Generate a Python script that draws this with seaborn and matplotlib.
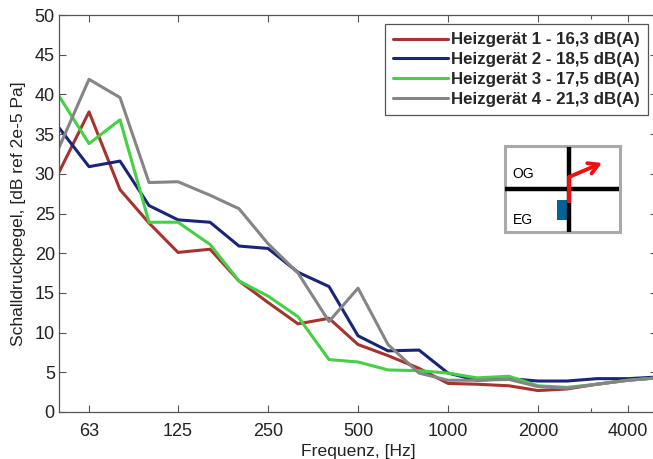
import matplotlib
matplotlib.use("Agg")
import matplotlib.pyplot as plt
import matplotlib.patches as mpatches
from matplotlib.ticker import FixedLocator, FixedFormatter, NullFormatter
import pandas as pd
import seaborn as sns

freqs = [50, 63, 80, 100, 125, 160, 200, 250, 315, 400, 500, 630, 800, 1000, 1250, 1600, 2000, 2500, 3150, 4000, 5000]
heater_1 = [30.2, 37.8, 28.0, 23.8, 20.1, 20.5, 16.5, 13.8, 11.1, 11.8, 8.5, 7.1, 5.5, 3.6, 3.5, 3.3, 2.7, 2.9, 3.5, 4.0, 4.3]
heater_2 = [35.8, 30.9, 31.6, 26.0, 24.2, 23.9, 20.9, 20.6, 17.6, 15.8, 9.6, 7.7, 7.8, 4.9, 4.0, 4.2, 3.9, 3.9, 4.2, 4.2, 4.4]
heater_3 = [39.8, 33.8, 36.8, 23.9, 23.9, 21.1, 16.5, 14.6, 12.0, 6.6, 6.3, 5.3, 5.2, 4.9, 4.3, 4.5, 3.3, 3.1, 3.5, 4.0, 4.3]
heater_4 = [33.3, 41.9, 39.6, 28.9, 29.0, 27.3, 25.6, 21.2, 17.5, 11.4, 15.6, 8.5, 4.9, 4.0, 4.0, 4.1, 3.2, 3.0, 3.5, 4.0, 4.3]
labels = ["Heizgerät 1 - 16,3 dB(A)", "Heizgerät 2 - 18,5 dB(A)", "Heizgerät 3 - 17,5 dB(A)", "Heizgerät 4 - 21,3 dB(A)"]
colors = ["#a5332e", "#1a2478", "#45d045", "#858585"]
x_ticks = [63, 125, 250, 500, 1000, 2000, 4000]
x_ticklabels = ["63", "125", "250", "500", "1000", "2000", "4000"]
y_ticks = [0, 5, 10, 15, 20, 25, 30, 35, 40, 45, 50]

W, H = 653, 459

sns.set_style("white")
plt.rcParams['font.family'] = ['Liberation Sans', 'DejaVu Sans']
plt.rcParams['font.size'] = 11

frames = []
for name, values in zip(labels, [heater_1, heater_2, heater_3, heater_4]):
    frames.append(pd.DataFrame({'freq': freqs, 'level': values, 'heater': name}))
data = pd.concat(frames)

fig = plt.figure(figsize=(W / 100, H / 100), dpi=100)
# the right edge of the original axes is cut off by the picture
ax = fig.add_axes([59 / W, (H - 412) / H, (657 - 59) / W, 397 / H])

sns.lineplot(data=data, x='freq', y='level', hue='heater', palette=colors, linewidth=2.2, ax=ax)

ax.set_xscale('log')
ax.set_xlim(50, 5000)
ax.set_ylim(0, 50)
ax.xaxis.set_major_locator(FixedLocator(x_ticks))
ax.xaxis.set_major_formatter(FixedFormatter(x_ticklabels))
ax.xaxis.set_minor_locator(FixedLocator([3000]))
ax.xaxis.set_minor_formatter(NullFormatter())
ax.set_yticks(y_ticks)
ax.tick_params(axis='both', which='major', direction='in', length=5, width=0.8, color='#555555',
               top=True, right=True, bottom=True, left=True, labelsize=13, labelcolor='#222222', pad=5)
ax.tick_params(axis='x', which='major', pad=8)
ax.tick_params(axis='y', which='major', pad=3)
ax.tick_params(axis='x', which='minor', direction='in', length=3, width=0.8, color='#555555', top=True, bottom=True)
for spine in ax.spines.values():
    spine.set_color('#555555')
    spine.set_linewidth(0.9)

ax.set_xlabel("Frequenz, [Hz]", fontsize=12.6, color='#222222', labelpad=3)
ax.set_ylabel("Schalldruckpegel, [dB ref 2e-5 Pa]", fontsize=12.6, color='#222222', labelpad=6)

handles, names = ax.get_legend_handles_labels()
leg = ax.legend(handles, names, loc='upper left', bbox_to_anchor=(385 / W, (H - 24) / H),
                bbox_transform=fig.transFigure, borderaxespad=0, fancybox=False, framealpha=1,
                edgecolor='#555555', prop={'family': 'Liberation Sans', 'weight': 'bold', 'size': 12.2},
                labelspacing=0.28, handlelength=3.2, handletextpad=0.2, borderpad=0.5)
leg.get_frame().set_linewidth(0.9)

# floor plan sketch, in picture pixels
def px(x, y):
    return x / W, (H - y) / H

sketch_lines = [((505, 189), (619, 189), 'black', 3.2), ((569, 147), (569, 232), 'black', 3.2)]
fig.add_artist(mpatches.Rectangle(px(505, 232), 114.5 / W, 86 / H, transform=fig.transFigure,
                                  facecolor='white', edgecolor='#aaaaaa', linewidth=2.2))
fig.add_artist(mpatches.Rectangle(px(557, 220), 10 / W, 20 / H, transform=fig.transFigure,
                                  facecolor='#00649b', edgecolor='none', zorder=3))
for p0, p1, c, lw in sketch_lines:
    fig.add_artist(plt.Line2D([px(*p0)[0], px(*p1)[0]], [px(*p0)[1], px(*p1)[1]], color=c, lw=lw,
                              transform=fig.transFigure, solid_capstyle='butt', zorder=4))
fig.add_artist(plt.Line2D([px(569, 203)[0], px(569, 177)[0]], [px(569, 203)[1], px(569, 177)[1]],
                          color='#f01010', lw=2.8, transform=fig.transFigure, solid_capstyle='butt', zorder=5))
fig.add_artist(mpatches.FancyArrowPatch(px(569, 177), px(602, 163), transform=fig.transFigure,
                                        arrowstyle='->,head_length=7,head_width=4', color='#f01010',
                                        lw=2.8, shrinkA=0, shrinkB=0, zorder=5))
fig.text(*px(512, 178), "OG", fontsize=10, color='black', zorder=6)
fig.text(*px(513, 224), "EG", fontsize=10, color='black', zorder=6)

fig.savefig('out.png', dpi=100)
